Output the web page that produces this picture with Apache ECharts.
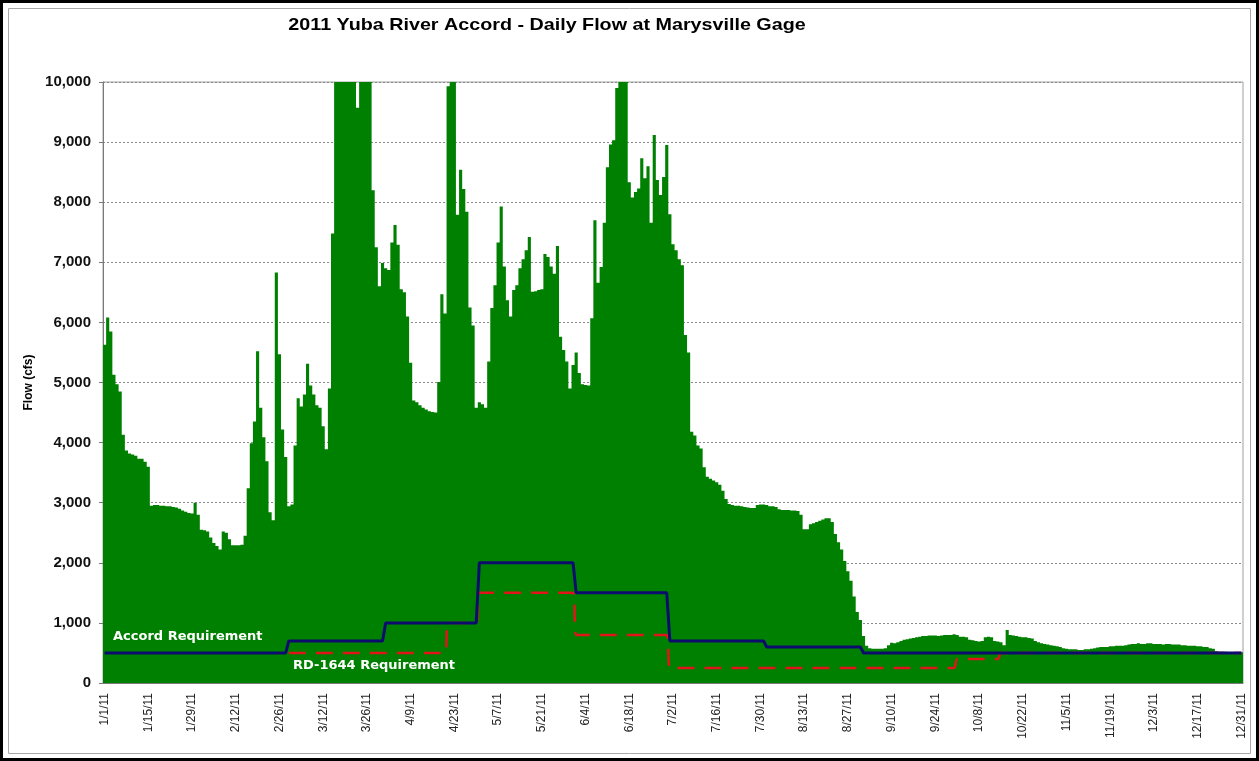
<!DOCTYPE html>
<html>
<head>
<meta charset="utf-8">
<title>2011 Yuba River Accord - Daily Flow at Marysville Gage</title>
<script src="https://cdn.jsdelivr.net/npm/echarts@6/dist/echarts.min.js"></script>
<style>
html, body { margin: 0; padding: 0; background: #fff; }
#container { width: 1259px; height: 761px; }
</style>
</head>
<body>
<div id="container"></div>
<script>
// daily flow at Marysville gage, cfs (values above 10,000 run off the chart)
var flowJan = [5630, 6080, 5850, 5130, 4970, 4850, 4130, 3870, 3820, 3800,
  3780, 3730, 3730, 3680, 3600, 2950, 2960, 2960, 2950, 2950,
  2940, 2940, 2930, 2920, 2900, 2870, 2850, 2830, 2820, 3000, 2800];
var flowFeb = [2550, 2540, 2520, 2420, 2330, 2280, 2220, 2520, 2500, 2390,
  2290, 2290, 2290, 2300, 2450, 3240, 3990, 4350, 5520, 4580,
  4090, 3690, 2840, 2710, 6830, 5470, 4220, 3760];
var flowMar = [2940, 2970, 3950, 4740, 4600, 4800, 5310, 4950, 4800, 4620,
  4580, 4270, 3890, 4900, 7480, 10800, 11500, 12000, 11800, 11000,
  10500, 10200, 9570, 10600, 11200, 10800, 10300, 8200, 7250, 6600, 6990];
var flowApr = [6900, 6870, 7330, 7620, 7290, 6550, 6500, 6100, 5330, 4700,
  4670, 4620, 4580, 4550, 4520, 4510, 4500, 5010, 6470, 6150,
  9930, 10300, 10200, 7790, 8540, 8220, 7840, 6250, 5950, 4580];
var flowMay = [4670, 4640, 4580, 5350, 6240, 6620, 7330, 7930, 6930, 6370,
  6100, 6540, 6620, 6900, 7050, 7200, 7420, 6510, 6520, 6540,
  6550, 7140, 7090, 6930, 6810, 7270, 5760, 5540, 5350, 4900, 5290];
var flowJun = [5500, 5160, 4970, 4960, 4950, 6070, 7700, 6660, 6920, 7660,
  8580, 8960, 9030, 9900, 10300, 10800, 10200, 8330, 8080, 8170,
  8230, 8730, 8400, 8600, 7660, 9120, 8370, 8120, 8420, 8950];
var flowJul = [7800, 7300, 7200, 7050, 6950, 5790, 5500, 4180, 4120, 3950,
  3900, 3590, 3430, 3400, 3370, 3340, 3300, 3200, 3060, 2980,
  2960, 2950, 2950, 2940, 2930, 2920, 2910, 2910, 2960, 2970, 2970];
var flowAug = [2960, 2940, 2940, 2930, 2890, 2880, 2880, 2880, 2870, 2870,
  2860, 2800, 2560, 2560, 2640, 2660, 2680, 2700, 2720, 2740,
  2740, 2680, 2480, 2340, 2220, 2030, 1860, 1700, 1440, 1180, 1050];
var flowSep = [780, 620, 580, 570, 570, 570, 570, 580, 630, 670,
  660, 680, 700, 720, 730, 740, 750, 760, 770, 780,
  780, 790, 790, 790, 780, 790, 800, 800, 800, 810];
var flowOct = [800, 770, 770, 760, 720, 710, 700, 690, 700, 760,
  770, 760, 700, 690, 680, 630, 880, 800, 790, 780,
  770, 760, 760, 750, 740, 700, 680, 660, 650, 640, 630];
var flowNov = [620, 610, 600, 580, 570, 560, 560, 560, 550, 550,
  560, 560, 570, 580, 590, 600, 600, 600, 610, 610,
  620, 620, 620, 630, 640, 650, 650, 660, 650, 650];
var flowDec = [660, 660, 650, 650, 650, 640, 650, 650, 640, 640,
  640, 630, 630, 620, 620, 620, 610, 610, 600, 600,
  580, 570, 530, 520, 520, 520, 510, 510, 510, 510, 510];

// requirement schedules: date each level starts, and the level (cfs)
var accordStart = ['1/1/11', '3/1/11', '4/1/11', '5/1/11', '6/1/11', '7/1/11', '8/1/11', '9/1/11'];
var accordFlow = [500, 700, 1000, 2000, 1500, 700, 600, 500];
var rdStart = ['3/1/11', '4/21/11', '5/1/11', '6/1/11', '7/1/11', '10/1/11', '10/15/11'];
var rdFlow = [500, 1000, 1500, 800, 250, 400, 500];

var flow = flowJan.concat(flowFeb, flowMar, flowApr, flowMay, flowJun,
  flowJul, flowAug, flowSep, flowOct, flowNov, flowDec);

// category labels like 1/15/11
var days = [];
var d = new Date(2011, 0, 1);
while (d.getFullYear() === 2011) {
  days.push((d.getMonth() + 1) + '/' + d.getDate() + '/11');
  d.setDate(d.getDate() + 1);
}

function dailySteps(starts, levels) {
  var out = days.map(function () { return null; });
  for (var i = 0; i < starts.length; i++) {
    var from = days.indexOf(starts[i]);
    var to = i + 1 < starts.length ? days.indexOf(starts[i + 1]) : days.length;
    for (var j = from; j < to; j++) out[j] = levels[i];
  }
  return out;
}

var accordDaily = dailySteps(accordStart, accordFlow);
var rdDaily = dailySteps(rdStart, rdFlow);

var chartDom = document.getElementById('container');
var myChart = echarts.init(chartDom);
var option;

option = {
  animation: false,
  textStyle: { fontFamily: '"Liberation Sans", Arial, sans-serif' },
  grid: {
    left: 103, right: 16, top: 82, bottom: 78,
    show: true, borderColor: '#a0a0a0', borderWidth: 1
  },
  xAxis: {
    type: 'category',
    data: days,
    boundaryGap: true,
    axisLine: { lineStyle: { color: '#7a7a7a', width: 1 } },
    axisTick: { alignWithLabel: true, interval: 13, length: 4, lineStyle: { color: '#7a7a7a' } },
    axisLabel: { interval: 13, rotate: 90, fontSize: 12, color: '#222', margin: 10 }
  },
  yAxis: {
    type: 'value',
    min: 0,
    max: 10000,
    interval: 1000,
    name: 'Flow (cfs)',
    nameLocation: 'middle',
    nameGap: 68,
    nameTextStyle: { fontWeight: 'bold', fontSize: 12, color: '#000' },
    axisLine: { show: true, lineStyle: { color: '#7a7a7a' } },
    axisTick: { show: true, length: 4, lineStyle: { color: '#7a7a7a' } },
    axisLabel: {
      fontWeight: 'bold', fontSize: 15, color: '#111', margin: 12,
      formatter: function (v) { return v.toLocaleString('en-US'); }
    },
    splitLine: { lineStyle: { color: '#8a8a8a', type: [2, 2] } }
  },
  series: [
    {
      name: 'Daily Flow',
      type: 'bar',
      data: flow,
      barCategoryGap: '0%',
      large: true,
      largeThreshold: 100,
      itemStyle: { color: '#008000' },
      z: 2
    },
    {
      name: 'RD-1644 Requirement',
      type: 'line',
      data: rdDaily,
      showSymbol: false,
      smooth: 0.4,
      lineStyle: { color: '#e0141a', width: 2.5, type: [17, 10] },
      z: 3
    },
    {
      name: 'Accord Requirement',
      type: 'line',
      data: accordDaily,
      showSymbol: false,
      lineStyle: { color: '#0c0c6e', width: 3 },
      z: 4
    }
  ],
  graphic: [
    {
      type: 'rect', z: 100, silent: true,
      shape: { x: 1.5, y: 1.5, width: 1256, height: 758 },
      style: { fill: 'none', stroke: '#000', lineWidth: 3 }
    },
    {
      type: 'rect', z: 100, silent: true,
      shape: { x: 8.5, y: 8.5, width: 1242, height: 745 },
      style: { fill: 'none', stroke: '#a8a8a8', lineWidth: 1 }
    },
    {
      type: 'text', z: 100, x: 547, y: 25, scaleX: 1.16,
      style: {
        text: '2011 Yuba River Accord - Daily Flow at Marysville Gage',
        font: 'bold 17px "Liberation Sans", Arial, sans-serif',
        textAlign: 'center', textVerticalAlign: 'middle', fill: '#000'
      }
    },
    {
      type: 'text', z: 100, x: 113, y: 637,
      style: {
        text: 'Accord Requirement',
        font: 'bold 13px "DejaVu Sans", sans-serif',
        textAlign: 'left', textVerticalAlign: 'middle', fill: '#fff'
      }
    },
    {
      type: 'text', z: 100, x: 293, y: 666,
      style: {
        text: 'RD-1644 Requirement',
        font: 'bold 13px "DejaVu Sans", sans-serif',
        textAlign: 'left', textVerticalAlign: 'middle', fill: '#fff'
      }
    }
  ]
};

option && myChart.setOption(option);
</script>
</body>
</html>
